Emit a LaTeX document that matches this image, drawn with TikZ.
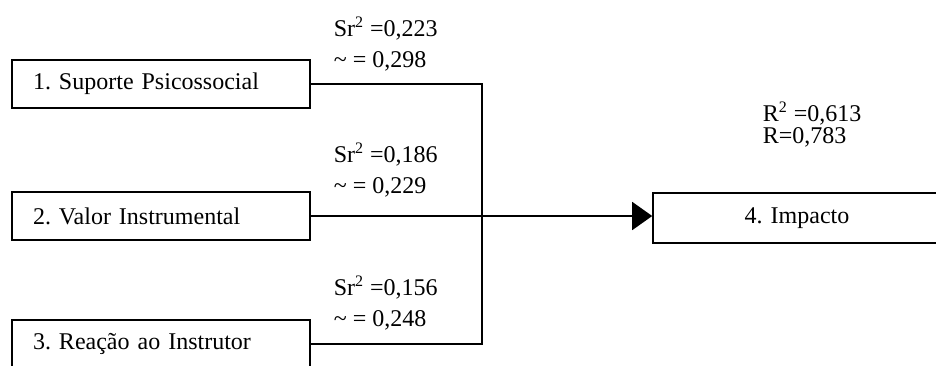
\documentclass[tikz,border=0pt]{standalone}
\usepackage{fontspec}
\setmainfont{Liberation Serif}
\usepackage{tikz}
\usetikzlibrary{arrows.meta, positioning}
\frenchspacing

\begin{document}
\begin{tikzpicture}[x=0.5pt, y=-0.5pt, line width=0.8pt,
    box/.style={draw, minimum width=149pt, minimum height=24pt, text width=128pt,
                inner xsep=10.5pt, align=left, font=\fontsize{12}{14}\selectfont},
    lbl/.style={anchor=base west, inner sep=0pt, font=\fontsize{12}{14}\selectfont}]
    \useasboundingbox (0,0) rectangle (936,365);

    % preditores
    \node[box] (sup) at (161,84) {1. Suporte Psicossocial};
    \node[box] (val) at (161,216) {2. Valor Instrumental};
    \node[box] (rea) at (161,344) {3. Reação ao Instrutor};

    % criterio
    \node[box, minimum width=144pt, minimum height=25pt, text width=120pt, align=center] (imp) at (797,218) {4. Impacto};

    \coordinate (junc) at (482,217);

    % coeficientes
    \node[lbl] (s1) at (333,36) {Sr\textsuperscript{2} =0,223};
    \node[lbl] (b1) at (333,67) {\textasciitilde{} = 0,298};
    \node[lbl] (s2) at (333,162) {Sr\textsuperscript{2} =0,186};
    \node[lbl] (b2) at (333,193) {\textasciitilde{} = 0,229};
    \node[lbl] (s3) at (333,295) {Sr\textsuperscript{2} =0,156};
    \node[lbl] (b3) at (333,326) {\textasciitilde{} = 0,248};
    \node[lbl] (r2) at (762,121) {R\textsuperscript{2} =0,613};
    \node[lbl] (r) at (762,143) {R=0,783};

    \draw (sup.east) -| (junc);
    \draw (rea.east) -| (junc);
    \draw[-{Triangle[length=10pt, width=14pt]}] (val.east) -- (val.east -| imp.west);
\end{tikzpicture}
\end{document}
